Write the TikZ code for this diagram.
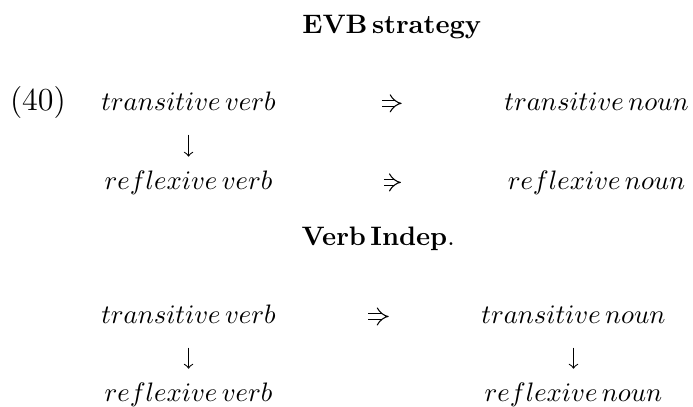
\documentclass[tikz,border=0pt]{standalone}
\usepackage{tikz}
\usetikzlibrary{arrows.meta,positioning}
\tikzset{every picture/.style={
  >=to                          % CM style arrows.
  }
}
\begin{document}
\begin{tikzpicture}[
    wd/.style={
      anchor=base,
      inner sep=0pt
    },
    down/.style={
      ->,
      shorten <=9pt,
      shorten >=5pt
    },
    imp/.style={
      double,
      double distance=2pt,
      -{Implies[scale=1.25]}
    }]

    % Helper macro.
    \def\im#1#2#3#4{ \draw[imp,shorten <=#3,shorten >=#4]
        ([yshift=2.5pt] #1.base east) -- ([yshift=2.5pt] #2.base west) }

    \useasboundingbox (0,0) rectangle (259.5pt,-152.4pt);

    % Draw the EVB scheme.
    \node[wd] (evb) at (146.8pt,-12.4pt) {$\mathbf{EVB\,strategy}$};
    \node[wd,font=\large] (exno) at (14.2pt,-41.2pt) {(40)};
    \node[wd] (tv1) at (70.6pt,-41.2pt) {$transitive\,verb$};
    \node[wd] (tn1) at (223.4pt,-41.2pt) {$transitive\,noun$};
    \node[wd] (rv1) at (70.6pt,-70.8pt) {$reflexive\,verb$};
    \node[wd] (rn1) at (223.4pt,-70.8pt) {$reflexive\,noun$};

    \draw[down] (tv1) -- (rv1);
    \im{tv1}{tn1}{39.7pt}{38.3pt};
    \im{rv1}{rn1}{41.5pt}{39.8pt};

    % Draw the verb independent scheme.
    \node[wd] (vind) at (141.6pt,-92.1pt) {$\mathbf{Verb\,Indep}.$};
    \node[wd] (tv2) at (70.6pt,-121pt) {$transitive\,verb$};
    \node[wd] (tn2) at (214.75pt,-121pt) {$transitive\,noun$};
    \node[wd] (rv2) at (70.6pt,-150.2pt) {$reflexive\,verb$};
    \node[wd] (rn2) at (214.75pt,-150.2pt) {$reflexive\,noun$};

    \draw[down] (tv2) -- (rv2);
    \draw[down] (tn2) -- (rn2);
    \im{tv2}{tn2}{34.4pt}{34.5pt};

  \end{tikzpicture}
\end{document}
